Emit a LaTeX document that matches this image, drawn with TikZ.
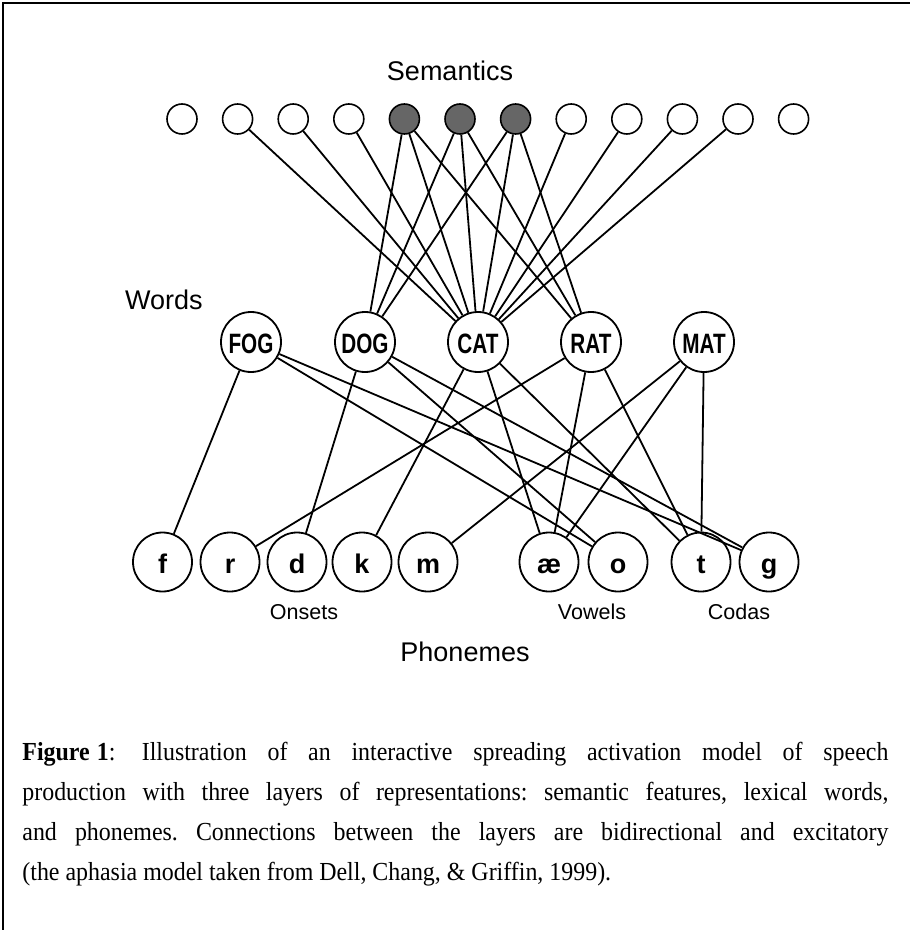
\documentclass[tikz,border=0pt]{standalone}
\usepackage{fontspec}
\usepackage{graphicx}
\setmainfont{Liberation Serif}
\newfontfamily\hv{Liberation Sans}
\frenchspacing
\newlength{\capws}
\setlength{\capws}{470.65pt}
\newcommand{\capline}[1]{\scalebox{0.92}[1]{\hbox to \capws{#1}}}
\begin{document}
\begin{tikzpicture}[x=0.5pt,y=-0.5pt,
  sem/.style={circle,draw,line width=0.8pt,minimum size=15pt,inner sep=0pt},
  semon/.style={sem,fill=black!60},
  word/.style={circle,draw,line width=0.9pt,minimum size=30pt,inner sep=0pt,
    text height=11pt,text depth=0pt,font=\hv\bfseries\fontsize{14}{14}\selectfont},
  phon/.style={circle,draw,line width=0.9pt,minimum size=29.5pt,inner sep=0pt,
    text height=11pt,text depth=0pt,font=\hv\bfseries\fontsize{13.5}{13.5}\selectfont},
  lbl/.style={font=\hv\fontsize{13.5}{13.5}\selectfont,inner sep=0pt,anchor=base},
  sublbl/.style={font=\hv\fontsize{10.75}{10.75}\selectfont,inner sep=0pt,anchor=base},
  captext/.style={font=\fontsize{13}{13}\selectfont,inner sep=0pt,anchor=base west},
  link/.style={line width=0.9pt}
]
\useasboundingbox (0,0) rectangle (909,930);
% frame
\draw[line width=1pt] (3,932) -- (3,3.5) -- (912,3.5);

% semantics
\node[lbl] (semlbl) at (450,81) {Semantics};
\foreach \i in {0,1,2,3,7,8,9,10,11}{
  \node[sem] (s\i) at ({182+55.6*\i},119) {};
}
\foreach \i in {4,5,6}{
  \node[semon] (s\i) at ({182+55.6*\i},119) {};
}

% words
\node[lbl,anchor=base east] (wordslbl) at (203,309) {Words};
\node[word] (fog) at (251,342) {\scalebox{0.74}[1]{FOG}};
\node[word] (dog) at (365,342) {\scalebox{0.74}[1]{DOG}};
\node[word] (cat) at (478,342) {\scalebox{0.74}[1]{CAT}};
\node[word] (rat) at (591,342) {\scalebox{0.74}[1]{RAT}};
\node[word] (mat) at (704,342) {\scalebox{0.74}[1]{MAT}};

% phonemes
\node[phon] (pf) at (162.5,562) {f};
\node[phon] (pr) at (230,562) {r};
\node[phon] (pd) at (297,562) {d};
\node[phon] (pk) at (362,562) {k};
\node[phon] (pm) at (428,562) {m};
\node[phon] (pae) at (549,562) {æ};
\node[phon] (po) at (618,562) {o};
\node[phon] (pt) at (701,562) {t};
\node[phon] (pg) at (769,562) {g};

\node[sublbl] (onsets) at (304,619) {Onsets};
\node[sublbl] (vowels) at (592,619) {Vowels};
\node[sublbl] (codas) at (739,619) {Codas};
\node[lbl] (phonlbl) at (465,661) {Phonemes};

% semantic -> word links
\foreach \i in {1,...,10}{ \draw[link] (s\i) -- (cat); }
\foreach \i in {4,5,6}{ \draw[link] (s\i) -- (dog); \draw[link] (s\i) -- (rat); }

% word -> phoneme links
\draw[link] (fog) -- (pf);  \draw[link] (fog) -- (po);  \draw[link] (fog) -- (pg);
\draw[link] (dog) -- (pd);  \draw[link] (dog) -- (po);  \draw[link] (dog) -- (pg);
\draw[link] (cat) -- (pk);  \draw[link] (cat) -- (pae); \draw[link] (cat) -- (pt);
\draw[link] (rat) -- (pr);  \draw[link] (rat) -- (pae); \draw[link] (rat) -- (pt);
\draw[link] (mat) -- (pm);  \draw[link] (mat) -- (pae); \draw[link] (mat) -- (pt);

% caption
\node[captext] (cap1) at (22,760) {\capline{\textbf{Figure\hspace{0.3em}1}:\hspace{1.1em}Illustration of an interactive spreading activation model of speech}};
\node[captext] (cap2) at (22,800) {\capline{production with three layers of representations: semantic features, lexical words,}};
\node[captext] (cap3) at (22,840) {\capline{and phonemes. Connections between the layers are bidirectional and excitatory}};
\node[captext] (cap4) at (22,880) {\scalebox{0.92}[1]{(the aphasia model taken from Dell, Chang, \& Griffin, 1999).}};
\end{tikzpicture}
\end{document}
